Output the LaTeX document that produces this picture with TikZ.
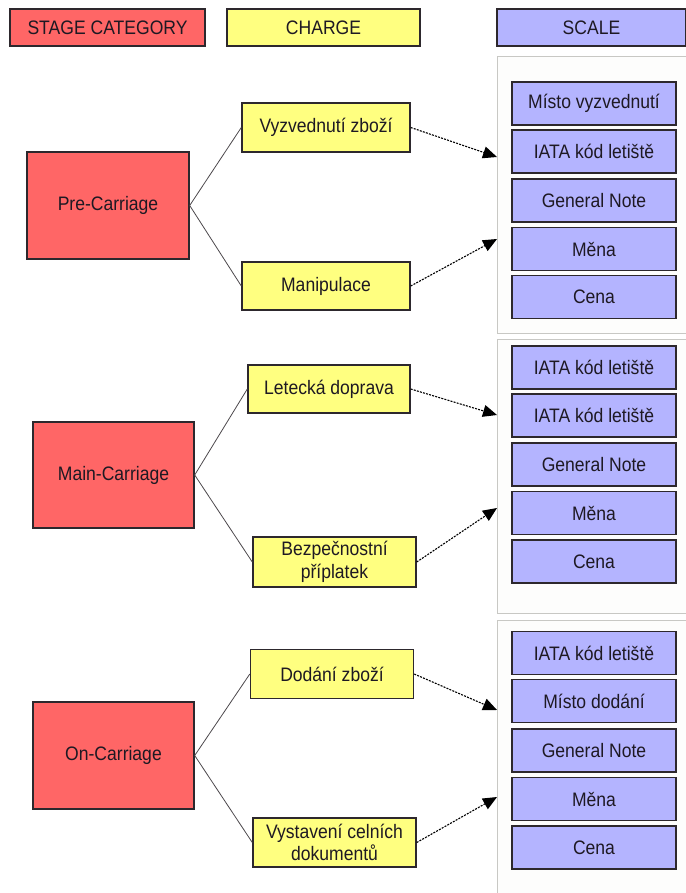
\documentclass[tikz,border=0pt]{standalone}
\usepackage{fontspec}
\setmainfont{Liberation Sans}[FakeStretch=0.9]
\usetikzlibrary{arrows.meta}

\definecolor{stagered}{RGB}{255,102,102}
\definecolor{chargeyellow}{RGB}{255,255,128}
\definecolor{scaleblue}{RGB}{180,180,255}
\definecolor{panelgray}{RGB}{200,200,196}
\definecolor{panelfill}{RGB}{253,253,252}
\definecolor{edgedark}{RGB}{45,40,45}
\definecolor{inkdark}{RGB}{30,25,35}

\tikzset{
  base/.style={draw=edgedark, line width=1.4pt, inner sep=1pt, align=center,
    text=inkdark, font=\fontsize{19.5}{22.5}\selectfont},
  stagebox/.style={base, fill=stagered},
  chargebox/.style={base, fill=chargeyellow},
  scalebox/.style={base, fill=scaleblue, minimum width=164pt, minimum height=43pt},
  panel/.style={draw=panelgray, line width=1pt, fill=panelfill},
  link/.style={draw=edgedark!85, line width=0.8pt},
  flow/.style={draw=black, line width=1.1pt, dash pattern=on 2pt off 1.2pt,
    -{Triangle[length=14pt,width=12pt]}}
}

\begin{document}
\begin{tikzpicture}[x=1pt,y=-1pt]
\useasboundingbox (0,0) rectangle (685,893);

% legend
\node[stagebox, minimum width=195pt, minimum height=37pt] (hstage) at (107.5,27.5) {STAGE CATEGORY};
\node[chargebox, minimum width=193pt, minimum height=37pt] (hcharge) at (323.5,27.5) {CHARGE};
\node[base, fill=scaleblue, minimum width=189pt, minimum height=37pt] (hscale) at (591.5,27.5) {SCALE};

% panels holding the scale entries
\node[panel, minimum width=193pt, minimum height=276pt] (p1) at (593.5,195) {};
\node[panel, minimum width=193pt, minimum height=274pt] (p2) at (593.5,476) {};
\node[panel, minimum width=193pt, minimum height=280pt] (p3) at (593.5,760) {};

% stage categories
\node[stagebox, minimum width=162pt, minimum height=107pt] (pre) at (108,205.5) {Pre-Carriage};
\node[stagebox, minimum width=161pt, minimum height=106pt] (main) at (113.5,475) {Main-Carriage};
\node[stagebox, minimum width=161pt, minimum height=107pt] (on) at (113.5,755.5) {On-Carriage};

% charges
\node[chargebox, minimum width=168pt, minimum height=49pt] (vyz) at (326,127.5) {Vyzvednutí zboží};
\node[chargebox, minimum width=168pt, minimum height=48pt] (man) at (326,286) {Manipulace};
\node[chargebox, minimum width=162pt, minimum height=48pt] (let) at (329,389) {Letecká doprava};
\node[chargebox, minimum width=163pt, minimum height=50pt] (bez) at (334.5,562) {Bezpečnostní\\příplatek};
\node[chargebox, minimum width=163pt, minimum height=49pt] (dod) at (332,674) {Dodání zboží};
\node[chargebox, minimum width=163pt, minimum height=49pt] (vys) at (334.5,842.5) {Vystavení celních\\dokumentů};

% scale entries
\node[scalebox] (a1) at (594,103.5) {Místo vyzvednutí};
\node[scalebox] (a2) at (594,151.5) {IATA kód letiště};
\node[scalebox] (a3) at (594,200.5) {General Note};
\node[scalebox] (a4) at (594,249) {Měna};
\node[scalebox] (a5) at (594,297) {Cena};

\node[scalebox] (b1) at (594,367.5) {IATA kód letiště};
\node[scalebox] (b2) at (594,415.5) {IATA kód letiště};
\node[scalebox] (b3) at (594,464.5) {General Note};
\node[scalebox] (b4) at (594,513) {Měna};
\node[scalebox] (b5) at (594,561.5) {Cena};

\node[scalebox] (c1) at (594,653) {IATA kód letiště};
\node[scalebox] (c2) at (594,701) {Místo dodání};
\node[scalebox] (c3) at (594,750.5) {General Note};
\node[scalebox] (c4) at (594,799) {Měna};
\node[scalebox] (c5) at (594,847.5) {Cena};

% arrow targets on the panel edges
\coordinate (t1) at (497,157);
\coordinate (t2) at (497,239);
\coordinate (t3) at (497,415);
\coordinate (t4) at (497,508);
\coordinate (t5) at (497,710);
\coordinate (t6) at (497,797);

% stage -> charge links
\draw[link] (pre.east) -- (vyz.west);
\draw[link] (pre.east) -- (man.west);
\draw[link] (main.east) -- (let.west);
\draw[link] (main.east) -- (bez.west);
\draw[link] (on.east) -- (dod.west);
\draw[link] (on.east) -- (vys.west);

% charge -> scale flows
\draw[flow] (vyz.east) -- (t1);
\draw[flow] (man.east) -- (t2);
\draw[flow] (let.east) -- (t3);
\draw[flow] (bez.east) -- (t4);
\draw[flow] (dod.east) -- (t5);
\draw[flow] (vys.east) -- (t6);
\end{tikzpicture}
\end{document}
